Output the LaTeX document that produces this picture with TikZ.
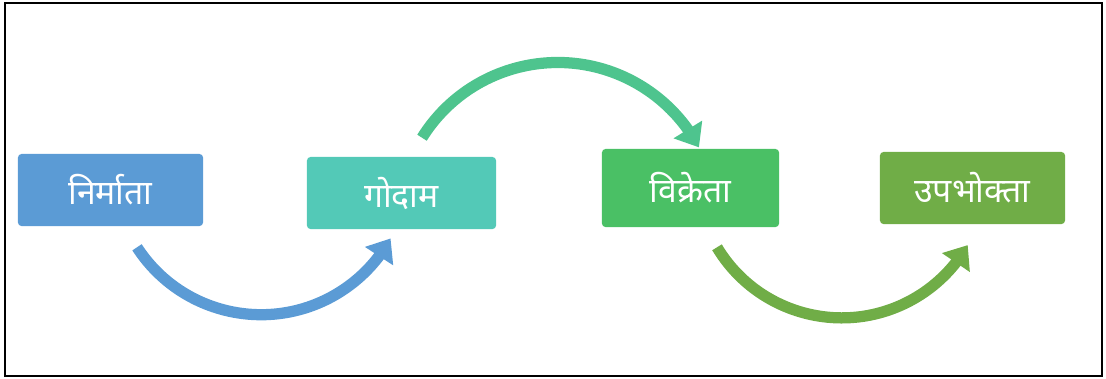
\documentclass[tikz,border=0pt]{standalone}
\usepackage{fontspec}
\usepackage{tikz}
\usetikzlibrary{arrows.meta,bending,calc}
\newfontfamily\devfont[Script=Devanagari]{Noto Sans}

\definecolor{makerblue}{HTML}{5B9BD5}
\definecolor{storeteal}{HTML}{53C9B7}
\definecolor{topflow}{HTML}{4EC48E}
\definecolor{sellgreen}{HTML}{4AC065}
\definecolor{buyolive}{HTML}{70AD47}

\tikzset{
  stage/.style={rounded corners=2.5pt, text=white, inner sep=0pt,
    minimum height=1.8cm, font=\devfont\fontsize{24}{28}\selectfont},
  flow/.style={line width=8pt, -{Triangle[length=15pt,width=23pt]}}
}

\begin{document}
\begin{tikzpicture}[x=0.025cm,y=0.025cm]

        \useasboundingbox (0,0) rectangle (1106,-378);
        \draw[line width=1.2pt] (5,-3) rectangle (1102,-376);

        \node[stage, fill=makerblue, minimum width=4.625cm] (maker) at (110.5,-190) {निर्माता};
        \node[stage, fill=storeteal, minimum width=4.725cm] (store) at (401.5,-193) {गोदाम};
        \node[stage, fill=sellgreen, minimum width=4.425cm, minimum height=1.95cm] (seller) at (690.5,-188) {विक्रेता};
        \node[stage, fill=buyolive, minimum width=4.625cm] (buyer) at (972.5,-188) {उपभोक्ता};

        \draw[flow, makerblue] ($(maker.south)+(26.5,-21)$) arc[start angle=213, end angle=331, radius=148];

        \draw[flow, topflow] ($(store.north)+(20.5,19)$) arc[start angle=148, end angle=28, radius=160];

        \draw[flow, buyolive] ($(seller.south)+(26.5,-20)$) arc[start angle=211, end angle=330, radius=145.5];

    \end{tikzpicture}
\end{document}
